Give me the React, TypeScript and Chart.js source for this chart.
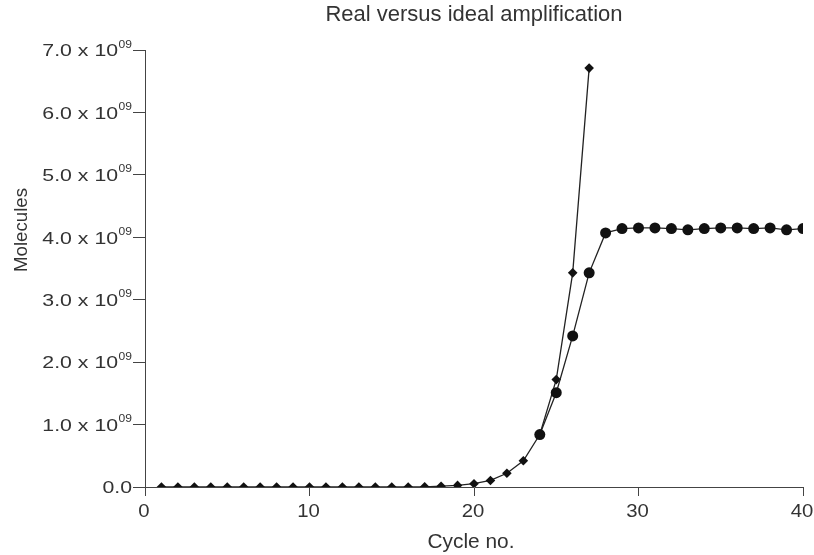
import React, { useEffect, useRef } from "react";
import { Chart, registerables } from "chart.js";

Chart.register(...registerables);

const chartTitle = "Real versus ideal amplification";
const xAxisTitle = "Cycle no.";
const yAxisTitle = "Molecules";

const idealCycles = [1, 2, 3, 4, 5, 6, 7, 8, 9, 10, 11, 12, 13, 14, 15, 16, 17, 18, 19, 20, 21, 22, 23, 24, 25, 26, 27];
const idealValues = [0, 0, 0, 0, 0, 0, 0, 0, 0, 0, 0, 0, 0, 0, 0, 0, 0.003e9, 0.013e9, 0.026e9, 0.053e9, 0.105e9, 0.22e9, 0.42e9, 0.84e9, 1.72e9, 3.43e9, 6.71e9];

const realCycles = [24, 25, 26, 27, 28, 29, 30, 31, 32, 33, 34, 35, 36, 37, 38, 39, 40];
const realValues = [0.84e9, 1.51e9, 2.42e9, 3.43e9, 4.07e9, 4.14e9, 4.15e9, 4.15e9, 4.14e9, 4.12e9, 4.14e9, 4.15e9, 4.15e9, 4.14e9, 4.15e9, 4.12e9, 4.14e9];

const xTickValues = [0, 10, 20, 30, 40];
const xTickLabels = ["0", "10", "20", "30", "40"];
const yTickValues = [0, 1e9, 2e9, 3e9, 4e9, 5e9, 6e9, 7e9];
const yTickMain = ["0.0", "1.0 x 10", "2.0 x 10", "3.0 x 10", "4.0 x 10", "5.0 x 10", "6.0 x 10", "7.0 x 10"];
const yTickSup = ["", "09", "09", "09", "09", "09", "09", "09"];

const FONT = "'Liberation Sans', Arial, Helvetica, sans-serif";
const TEXT = "#333";
const AXIS = "#444";

function drawText(
  ctx: CanvasRenderingContext2D,
  s: string,
  x: number,
  y: number,
  size: number,
  align: CanvasTextAlign,
  sx = 1,
  rot = 0
) {
  ctx.save();
  ctx.translate(x, y);
  if (rot) ctx.rotate(rot);
  ctx.scale(sx, 1);
  ctx.font = `${size}px ${FONT}`;
  ctx.fillStyle = TEXT;
  ctx.textAlign = align;
  ctx.textBaseline = "alphabetic";
  ctx.fillText(s, 0, 0);
  ctx.restore();
}

const textPlugin = {
  id: "textPlugin",
  afterDraw(chart: any) {
    const { ctx, chartArea, scales } = chart;
    const xs = scales.x;
    const ys = scales.y;
    const cx = (chartArea.left + chartArea.right) / 2;

    // title
    drawText(ctx, chartTitle, cx, 21, 22, "center", 1.0);

    // y tick labels with superscript exponent
    const labelRight = chartArea.left - 13;
    yTickValues.forEach((v, i) => {
      const py = ys.getPixelForValue(v);
      const sup = yTickSup[i];
      let supW = 0;
      if (sup) {
        ctx.save();
        ctx.font = `10.5px ${FONT}`;
        supW = ctx.measureText(sup).width * 1.15;
        ctx.restore();
        drawText(ctx, sup, labelRight - supW, py - 2.5, 10.5, "left", 1.15);
      }
      drawText(ctx, yTickMain[i], labelRight - supW - (sup ? 0.5 : 0), py + 6.3, 16.5, "right", 1.29);
    });

    // x tick labels
    xTickValues.forEach((v, i) => {
      const px = xs.getPixelForValue(v);
      drawText(ctx, xTickLabels[i], px - 1, chartArea.bottom + 30, 18.5, "center", 1.1);
    });

    // axis titles
    drawText(ctx, xAxisTitle, cx - 3, 548, 19.5, "center", 1.07);
    drawText(ctx, yAxisTitle, 27, 230, 18.7, "center", 1, -Math.PI / 2);
  },
};

export default function App() {
  const ref = useRef<HTMLCanvasElement | null>(null);
  useEffect(() => {
    if (!ref.current) return;
    const chart = new Chart(ref.current, {
      type: "line",
      data: {
        datasets: [
          {
            label: "Real",
            data: realCycles.map((c, i) => ({ x: c, y: realValues[i] })),
            borderColor: "#222",
            backgroundColor: "#111",
            borderWidth: 1.3,
            pointStyle: "circle",
            pointRadius: 5.5,
            pointBorderWidth: 0,
            tension: 0,
            order: 0,
          },
          {
            label: "Ideal",
            data: idealCycles.map((c, i) => ({ x: c, y: idealValues[i] })),
            borderColor: "#222",
            backgroundColor: "#111",
            borderWidth: 1.3,
            pointStyle: "rectRot",
            pointRadius: 4.8,
            pointBorderWidth: 0,
            tension: 0,
            order: 1,
          },
        ],
      },
      options: {
        animation: false,
        responsive: false,
        maintainAspectRatio: false,
        layout: { padding: { left: 0, right: 11, top: 50, bottom: 0 } },
        plugins: {
          legend: { display: false },
          tooltip: { enabled: false },
          title: { display: false },
        },
        scales: {
          x: {
            type: "linear",
            min: 0,
            max: 40,
            afterBuildTicks: (scale: any) => {
              scale.ticks = xTickValues.map((v) => ({ value: v }));
            },
            afterFit: (scale: any) => {
              scale.height = 68;
            },
            ticks: { display: false },
            grid: { drawOnChartArea: false, drawTicks: true, tickLength: 9, color: AXIS },
            border: { display: true, color: AXIS, width: 1 },
          },
          y: {
            type: "linear",
            min: 0,
            max: 7e9,
            afterBuildTicks: (scale: any) => {
              scale.ticks = yTickValues.map((v) => ({ value: v }));
            },
            afterFit: (scale: any) => {
              scale.width = 145;
            },
            ticks: { display: false },
            grid: { drawOnChartArea: false, drawTicks: true, tickLength: 12, color: AXIS },
            border: { display: true, color: AXIS, width: 1 },
          },
        },
      },
      plugins: [textPlugin],
    } as any);
    return () => chart.destroy();
  }, []);
  return (
    <div style={{ position: "fixed", left: 0, top: 0, width: 814, height: 555, background: "#fff" }}>
      <canvas ref={ref} width={814} height={555} style={{ width: 814, height: 555 }} />
    </div>
  );
}
